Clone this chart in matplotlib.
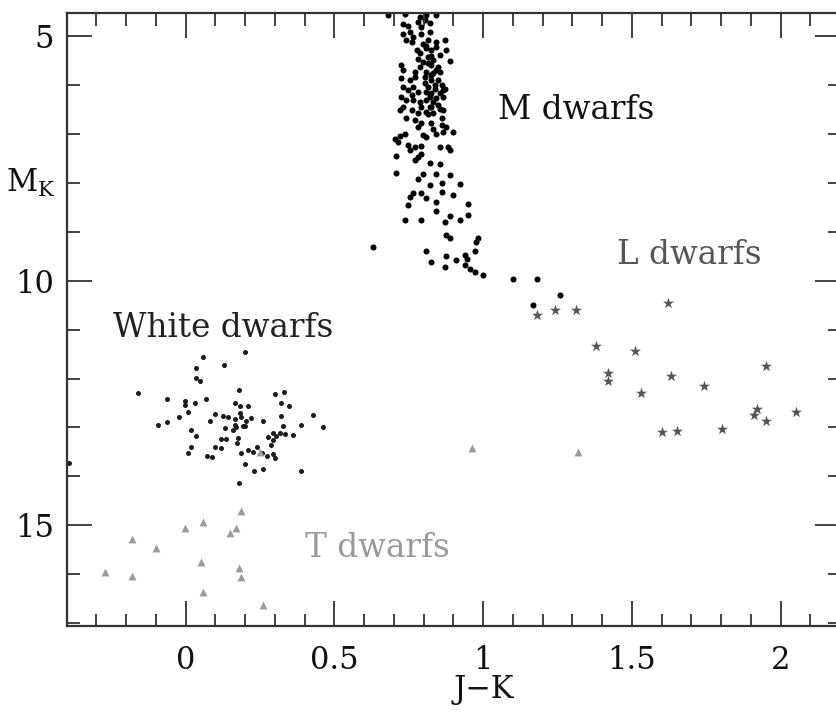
import matplotlib
matplotlib.use("Agg")
import matplotlib.pyplot as plt
from matplotlib.ticker import MultipleLocator

# ---------------- data (J-K, M_K) ----------------
m_jk = [0.680,0.737,0.787,0.809,0.843,
        0.731,0.748,0.781,0.804,0.820,0.792,
        0.731,0.753,0.765,0.742,0.759,0.792,0.820,0.815,0.798,0.843,0.871,
        0.776,0.787,0.809,0.826,0.843,0.876,0.781,0.798,0.815,0.832,0.854,0.888,0.787,0.826,0.848,0.725,0.731,
        0.770,0.809,0.832,0.854,0.725,0.753,0.770,0.804,0.826,0.848,0.860,0.765,0.815,0.837,0.865,0.781,0.809,0.826,0.854,0.871,0.731,
        0.748,0.759,0.725,0.742,0.765,0.787,0.809,0.820,0.843,0.865,0.792,0.826,0.848,0.731,0.720,0.759,0.781,0.809,0.854,0.865,0.832,
        0.742,0.770,0.792,0.826,0.860,0.860,0.781,0.876,0.843,0.899,0.720,0.703,0.737,0.798,0.809,0.865,
        0.714,0.748,0.770,0.792,0.753,0.854,0.882,0.888,0.781,0.770,0.708,0.820,0.854,0.792,
        0.708,0.798,0.781,0.843,0.888,0.820,0.860,0.921,0.765,0.753,0.792,0.809,0.860,0.899,0.748,0.843,0.843,0.949,
        0.737,0.792,0.871,0.888,0.921,0.949,0.876,0.888,0.983,0.977,
        0.630,0.809,0.972,0.876,0.910,0.938,0.944,0.826,0.871,0.938,0.955,0.972,1.000,
        1.101,1.180,1.258,1.168,
        0.815,0.826,0.837,0.820,0.832,0.804,0.815,0.826,0.843,0.820,0.809,0.832]
m_mk = [4.57,4.55,4.61,4.57,4.57,
        4.75,4.80,4.71,4.67,4.74,4.81,
        4.95,4.91,5.01,5.08,5.12,4.95,4.91,5.08,5.15,5.12,5.08,
        5.29,5.35,5.25,5.29,5.22,5.29,5.46,5.52,5.42,5.49,5.39,5.50,5.63,5.59,5.63,5.59,5.69,
        5.73,5.73,5.76,5.73,5.86,5.90,5.83,5.83,5.90,5.90,6.00,6.04,6.04,6.07,6.10,6.14,6.14,6.17,6.17,6.07,6.04,
        6.10,6.21,6.24,6.31,6.31,6.34,6.31,6.24,6.27,6.24,6.44,6.44,6.41,6.44,6.51,6.51,6.58,6.55,6.48,6.51,6.58,
        6.68,6.72,6.78,6.78,6.68,6.82,6.85,6.85,6.99,6.95,7.04,7.11,7.00,7.02,7.06,6.95,
        7.16,7.23,7.26,7.25,7.33,7.26,7.26,7.33,7.47,7.53,7.45,7.59,7.62,7.41,
        7.79,7.81,7.91,7.81,7.84,8.04,8.00,8.02,8.20,8.28,8.21,8.30,8.18,8.25,8.45,8.39,8.57,8.43,
        8.76,8.76,8.79,8.68,8.75,8.66,9.07,9.13,9.13,9.20,
        9.31,9.39,9.39,9.50,9.58,9.48,9.56,9.61,9.71,9.68,9.75,9.82,9.88,
        9.97,9.97,10.29,10.50,
        5.55,5.80,6.00,6.20,6.35,5.95,6.60,5.40,5.70,6.45,5.20,6.90]

wd_jk = [0.059,0.199,0.129,0.036,0.036,0.047,-0.162,0.180,0.300,0.330,-0.062,-0.001,-0.001,0.030,0.067,
         0.165,0.182,0.210,0.319,0.348,0.008,-0.022,-0.062,-0.093,0.098,0.124,0.143,0.081,0.165,0.182,
         0.187,0.204,0.221,0.260,0.319,0.429,0.165,0.193,0.131,0.160,0.168,0.199,0.328,0.389,0.462,
         0.019,0.036,0.120,0.137,0.176,0.171,0.277,0.294,0.305,0.316,0.333,0.361,0.294,0.288,0.019,
         0.008,0.098,0.120,0.187,0.210,0.227,0.240,0.255,0.272,0.292,0.300,0.070,0.087,0.199,0.229,
         0.260,0.389,0.180,-0.392]
wd_mk = [11.55,11.45,11.72,11.79,11.99,12.06,12.30,12.23,12.31,12.27,12.42,12.45,12.54,12.49,12.42,
         12.49,12.56,12.57,12.49,12.57,12.68,12.79,12.88,12.95,12.72,12.76,12.79,12.86,12.83,12.70,
         12.79,12.86,12.81,12.86,12.76,12.74,12.95,12.98,13.02,13.05,13.00,12.97,12.98,12.95,13.00,
         13.05,13.17,13.24,13.24,13.22,13.32,13.19,13.12,13.17,13.12,13.13,13.15,13.25,13.36,13.39,
         13.53,13.39,13.42,13.53,13.47,13.51,13.40,13.53,13.58,13.54,13.63,13.58,13.60,13.75,13.88,
         13.85,13.90,14.13,13.72]

l_jk = [1.180,1.241,1.311,1.620,1.379,1.510,1.421,1.421,1.630,1.530,1.742,1.951,1.919,1.910,1.951,
        2.052,1.600,1.650,1.802]
l_mk = [10.70,10.59,10.59,10.45,11.33,11.44,11.88,12.04,11.95,12.30,12.15,11.74,12.63,12.75,12.87,
        12.68,13.09,13.07,13.04]

t_jk = [-0.272,-0.182,-0.182,-0.100,-0.001,0.059,0.050,0.059,0.148,0.168,0.187,0.179,0.187,0.260,
        0.961,1.319,0.250]
t_mk = [15.95,15.29,16.03,15.47,15.06,14.94,15.76,16.37,15.16,15.06,14.70,15.88,16.05,16.63,
        13.42,13.51,13.50]

labels = ["M dwarfs", "L dwarfs", "White dwarfs", "T dwarfs"]
label_pos = [(1.05, 6.5), (1.45, 9.47), (-0.245, 10.97), (0.40, 15.46)]
label_col = ["#111111", "#555555", "#222222", "#999999"]

# ---------------- figure ----------------
plt.rcParams['font.family'] = ['DejaVu Serif']
plt.rcParams['mathtext.fontset'] = 'dejavuserif'

fig = plt.figure(figsize=(8.36, 7.14), dpi=100)
ax = fig.add_axes([0.0798, 0.1232, 0.9252, 0.859])

ax.scatter(m_jk, m_mk, s=19, c="#000000", marker="o", linewidths=0)
ax.scatter(wd_jk, wd_mk, s=13, c="#1c1c1c", marker="o", linewidths=0)
ax.scatter(l_jk, l_mk, s=70, c="#555555", marker="*", linewidths=0)
ax.scatter(t_jk, t_mk, s=32, c="#9a9a9a", marker="^", linewidths=0)

for lab, (x, y), col in zip(labels, label_pos, label_col):
    ax.text(x, y, lab, color=col, fontsize=23.5, ha="left", va="center")

ax.set_xlim(-0.4, 2.2)
ax.set_ylim(17.06, 4.52)

ax.xaxis.set_major_locator(MultipleLocator(0.5))
ax.xaxis.set_minor_locator(MultipleLocator(0.1))
ax.yaxis.set_major_locator(MultipleLocator(5))
ax.yaxis.set_minor_locator(MultipleLocator(1))
ax.set_xticks([0, 0.5, 1, 1.5, 2])
ax.set_xticklabels(["0", "0.5", "1", "1.5", "2"])

ax.tick_params(which="both", direction="in", top=True, right=True, color="#333333",
               labelsize=22, labelcolor="#111111")
ax.tick_params(which="major", length=18, width=1.3)
ax.tick_params(which="minor", length=9, width=1.3)
ax.tick_params(axis="x", which="major", pad=14)
ax.tick_params(axis="y", which="major", pad=9)

for sp in ax.spines.values():
    sp.set_linewidth(1.6)
    sp.set_color("#333333")

ax.set_xlabel("J\u2212K", fontsize=22, color="#111111", va="center")
ax.xaxis.set_label_coords(0.5395, -0.104)
ax.set_ylabel(r"M$_{\mathrm{K}}$", fontsize=22, rotation=0, color="#111111", va="center", ha="center")
ax.yaxis.set_label_coords(-0.047, 0.722)

fig.savefig("out.png", dpi=100)
